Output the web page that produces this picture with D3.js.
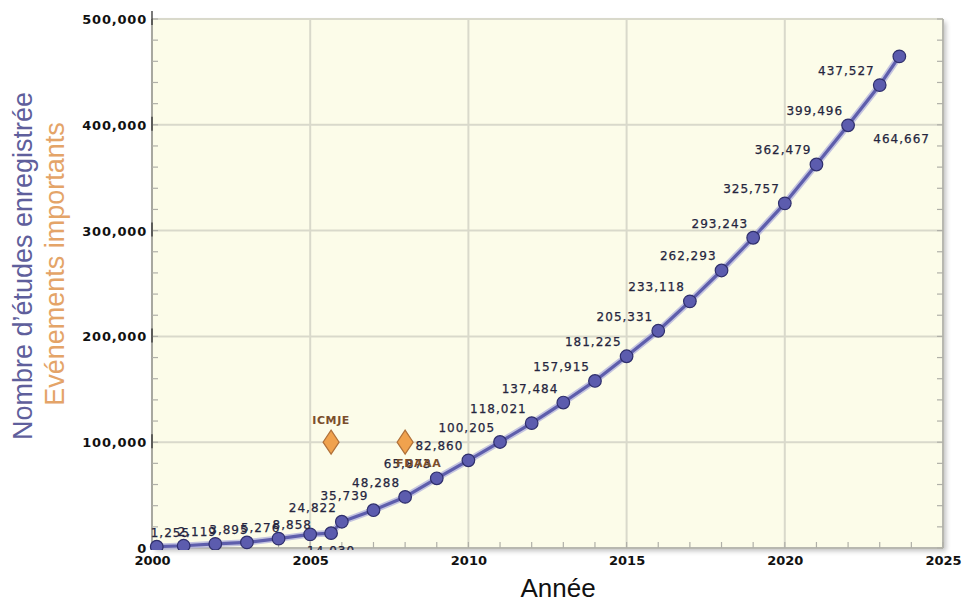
<!DOCTYPE html>
<html>
<head>
<meta charset="utf-8">
<script src="https://cdn.jsdelivr.net/npm/d3@7/dist/d3.min.js"></script>
<style>
  html, body { margin: 0; padding: 0; background: #ffffff; }
  svg { display: block; }
</style>
</head>
<body>
<svg id="chart" width="963" height="602"></svg>
<script>
// ---- Data ----
const years = [2000.15, 2001, 2002, 2003, 2004, 2005, 2005.66, 2006, 2007, 2008, 2009, 2010, 2011, 2012, 2013, 2014, 2015, 2016, 2017, 2018, 2019, 2020, 2021, 2022, 2023, 2023.62];
const studies = [1255, 2119, 3895, 5276, 8858, 12900, 14030, 24822, 35739, 48288, 65873, 82860, 100205, 118021, 137484, 157915, 181225, 205331, 233118, 262293, 293243, 325757, 362479, 399496, 437527, 464667];
const eventNames = ["ICMJE", "FDAAA"];
const eventYears = [2005.66, 2008.0];
const eventValues = [100000, 100000];
const xTicks = [2000, 2005, 2010, 2015, 2020, 2025];
const yTicks = [0, 100000, 200000, 300000, 400000, 500000];
const xTitle = "Année";
const yTitle1 = "Nombre d\u2019études enregistrée";
const yTitle2 = "Evénements importants";

// ---- Layout ----
const svg = d3.select("#chart");
const L = 152, R = 943, T = 19, B = 548;
const x = d3.scaleLinear().domain([2000, 2025]).range([L, R]);
const y = d3.scaleLinear().domain([0, 500000]).range([B, T]);
const fmt = d3.format(",");

const defs = svg.append("defs");
const f = defs.append("filter").attr("id", "shadow").attr("x", "-5%").attr("y", "-5%").attr("width", "110%").attr("height", "115%");
f.append("feGaussianBlur").attr("in", "SourceAlpha").attr("stdDeviation", 2.5);
f.append("feOffset").attr("dx", 3).attr("dy", 3).attr("result", "b");
f.append("feComponentTransfer").append("feFuncA").attr("type", "linear").attr("slope", 0.25);
const fm = f.append("feMerge"); fm.append("feMergeNode"); fm.append("feMergeNode").attr("in", "SourceGraphic");
defs.append("clipPath").attr("id", "lblclip").append("rect").attr("x", 140).attr("y", 0).attr("width", 823).attr("height", B + 2);

// plot background
svg.append("rect").attr("x", L).attr("y", T).attr("width", R - L).attr("height", B - T)
  .attr("fill", "#fcfce9").attr("filter", "url(#shadow)");

// grid
const grid = svg.append("g");
grid.selectAll("line.gx").data(xTicks).join("line")
  .attr("x1", d => x(d)).attr("x2", d => x(d)).attr("y1", T).attr("y2", B)
  .attr("stroke", "#d9d9cb").attr("stroke-width", 2);
grid.selectAll("line.gy").data(yTicks).join("line")
  .attr("x1", L).attr("x2", R).attr("y1", d => y(d)).attr("y2", d => y(d))
  .attr("stroke", "#d9d9cb").attr("stroke-width", 2);

// frame
svg.append("line").attr("x1", L).attr("x2", L).attr("y1", T).attr("y2", B).attr("stroke", "#a8a8a0").attr("stroke-width", 2);
svg.append("line").attr("x1", R).attr("x2", R).attr("y1", T).attr("y2", B).attr("stroke", "#b8b8b0").attr("stroke-width", 2);
svg.append("line").attr("x1", L).attr("x2", R).attr("y1", B).attr("y2", B).attr("stroke", "#b8b8b0").attr("stroke-width", 2);

// minor ticks (inside)
const minorY = d3.range(0, 500001, 20000);
const minorX = d3.range(2000, 2026, 1);
const tk = svg.append("g").attr("stroke", "#b0b0a8").attr("stroke-width", 1.2);
tk.selectAll("line.ly").data(minorY).join("line")
  .attr("x1", L).attr("x2", L + 6).attr("y1", d => y(d)).attr("y2", d => y(d));
tk.selectAll("line.ry").data(minorY).join("line")
  .attr("x1", R - 6).attr("x2", R).attr("y1", d => y(d)).attr("y2", d => y(d));
tk.selectAll("line.bx").data(minorX).join("line")
  .attr("x1", d => x(d)).attr("x2", d => x(d)).attr("y1", B - 6).attr("y2", B);
// dark major marks on the left axis
svg.append("g").selectAll("line").data(yTicks.slice(1)).join("line")
  .attr("x1", L).attr("x2", L).attr("y1", d => y(d) - 8).attr("y2", d => y(d) + 6)
  .attr("stroke", "#333").attr("stroke-width", 1.3);

// axes tick labels (via d3 axes)
const yAxis = d3.axisLeft(y).tickValues(yTicks).tickFormat(fmt).tickSize(0).tickPadding(5);
const gy = svg.append("g").attr("transform", `translate(${L},0)`).call(yAxis);
gy.select(".domain").remove();
gy.selectAll("text").attr("font-family", "DejaVu Sans, Verdana, sans-serif").attr("font-weight", "bold")
  .attr("font-size", 13).attr("letter-spacing", "0.8px").attr("fill", "#111").attr("dy", "0.35em");

const xAxis = d3.axisBottom(x).tickValues(xTicks).tickFormat(d3.format("d")).tickSize(0).tickPadding(8);
const gx = svg.append("g").attr("transform", `translate(0,${B})`).call(xAxis);
gx.select(".domain").remove();
gx.selectAll("text").attr("font-family", "DejaVu Sans, Verdana, sans-serif").attr("font-weight", "bold")
  .attr("font-size", 13).attr("fill", "#111");

// axis titles
svg.append("text").attr("x", 558).attr("y", 597).attr("text-anchor", "middle")
  .attr("font-family", "Liberation Sans, Arial, sans-serif").attr("font-size", 26).attr("fill", "#111").text(xTitle);
svg.append("text").attr("transform", "translate(32,266) rotate(-90)").attr("text-anchor", "middle")
  .attr("font-family", "Liberation Sans, Arial, sans-serif").attr("font-size", 27).attr("fill", "#5f5f9c").text(yTitle1);
svg.append("text").attr("transform", "translate(64,264) rotate(-90)").attr("text-anchor", "middle")
  .attr("font-family", "Liberation Sans, Arial, sans-serif").attr("font-size", 27).attr("fill", "#e4a468").text(yTitle2);

// series line
const pts = years.map((yr, i) => ({ yr, v: studies[i], i }));
const line = d3.line().x(d => x(d.yr)).y(d => y(d.v));
svg.append("path").datum(pts).attr("d", line).attr("fill", "none")
  .attr("stroke", "#b4b4dc").attr("stroke-width", 6.5).attr("stroke-linejoin", "round").attr("opacity", 0.8);
svg.append("path").datum(pts).attr("d", line).attr("fill", "none")
  .attr("stroke", "#5e5eac").attr("stroke-width", 3.2).attr("stroke-linejoin", "round");

// points
svg.append("g").attr("clip-path", "url(#lblclip)").selectAll("circle").data(pts).join("circle")
  .attr("cx", d => x(d.yr)).attr("cy", d => y(d.v)).attr("r", 6.3)
  .attr("fill", "#5c5cae").attr("stroke", "#2f2f6c").attr("stroke-width", 1.2);

// point labels
function place(d) {
  const n = pts.length;
  if (d.i === n - 1) return { anchor: "start", dx: -26, dy: 87 };
  if (d.yr > 2005 && d.yr < 2006) return { anchor: "middle", dx: 0, dy: 22 };
  if (d.yr === 2005) return null;
  if (d.yr < 2005) return { anchor: "start", dx: -6, dy: -10 };
  return { anchor: "end", dx: -5, dy: -10 };
}
const lbl = svg.append("g").attr("clip-path", "url(#lblclip)");
pts.forEach(d => {
  const p = place(d);
  if (!p) return;
  lbl.append("text").attr("x", x(d.yr) + p.dx).attr("y", y(d.v) + p.dy)
    .attr("text-anchor", p.anchor)
    .attr("font-family", "DejaVu Sans, Verdana, sans-serif").attr("font-size", 12)
    .attr("letter-spacing", "1px").attr("fill", "#25253e")
    .attr("stroke", "#25253e").attr("stroke-width", 0.25).text(fmt(d.v));
});

// events
const ev = eventNames.map((n, i) => ({ n, yr: eventYears[i], v: eventValues[i], i }));
const ge = svg.append("g");
ge.selectAll("path").data(ev).join("path")
  .attr("transform", d => `translate(${x(d.yr)},${y(d.v)})`)
  .attr("d", "M0,-12 L8,0 L0,12 L-8,0 Z")
  .attr("fill", "#f0a24e").attr("stroke", "#b0713a").attr("stroke-width", 1.2);
ge.selectAll("text").data(ev).join("text")
  .attr("x", d => d.i === 0 ? x(d.yr) : x(d.yr) - 9)
  .attr("y", d => d.i === 0 ? y(d.v) - 18 : y(d.v) + 25)
  .attr("text-anchor", d => d.i === 0 ? "middle" : "start")
  .attr("font-family", "DejaVu Sans, Verdana, sans-serif").attr("font-size", 11).attr("font-weight", "bold")
  .attr("letter-spacing", "0.6px").attr("fill", "#7a4e2c").text(d => d.n);
</script>
</body>
</html>
